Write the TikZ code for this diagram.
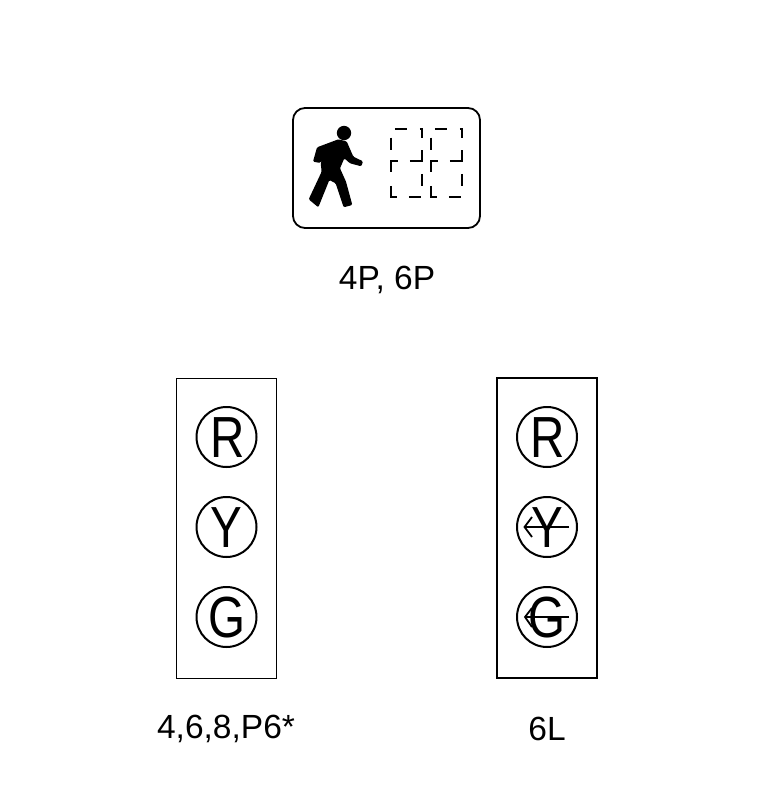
\documentclass[tikz,border=0pt]{standalone}
\usepackage{fontspec}
\setmainfont{Liberation Sans}
\tikzset{
  lamp/.style={draw=black,line width=2pt,circle,minimum size=60pt,inner sep=0pt},
  letter/.style={inner sep=0pt,font=\fontsize{58}{58}\selectfont,xscale=0.82,yshift=-0.5pt},
  caption/.style={inner sep=0pt,font=\fontsize{33.5}{33.5}\selectfont},
  seg/.style={line width=2pt,line cap=butt},
  turn/.style={line width=1.8pt,line join=miter}
}
\begin{document}
\begin{tikzpicture}[x=1pt,y=-1pt]
\useasboundingbox (0,0) rectangle (766,786);
% pedestrian signal
\node[draw=black,line width=1.8pt,rounded corners=12pt,minimum width=187pt,minimum height=120pt,inner sep=0pt] (ped) at (386.5,168) {};
\begin{scope}[shift={(285,100)},x=0.3333pt,y=-0.3333pt]
  \fill (177,99) circle (21.5);
  \fill[rounded corners=1.2pt] (160,118) -- (185,124) -- (205,170) -- (234,184) -- (229,199) -- (195,190) -- (178,175) -- (165,205) -- (183,245) -- (202,315) -- (176,322) -- (152,250) -- (133,240) -- (100,322) -- (71,298) -- (110,215) -- (107,190) -- (118,162) -- (106,189) -- (84,185) -- (96,142) -- cycle;
  \foreach \d in {0,120}{
    \begin{scope}[xshift=\d*0.3333pt,seg]
      \draw (330,88) -- (367,88);
      \draw (405,88) -- (410,88) -- (410,115);
      \draw (318,113) -- (318,150);
      \draw (375,182) -- (410,182) -- (410,150);
      \draw (318,215) -- (318,182) -- (338,182);
      \draw (410,222) -- (410,258);
      \draw (318,258) -- (318,290) -- (335,290);
      \draw (372,290) -- (408,290);
    \end{scope}
  }
\end{scope}
\node[caption] (pedlabel) at (387,280) {4P, 6P};
% left head
\node[draw=black,line width=1pt,minimum width=100pt,minimum height=300pt,inner sep=0pt] (left) at (226.5,528.5) {};
\node[lamp] (lr) at (226.5,437) {};
\node[lamp] (ly) at (226.5,527) {};
\node[lamp] (lg) at (226.5,617) {};
\node[letter] at (227.5,437) {R};
\node[letter] at (ly) {Y};
\node[letter] at (lg) {G};
\node[caption] (leftlabel) at (226,729) {4,6,8,P6*};
% right head
\node[draw=black,line width=2pt,minimum width=100pt,minimum height=300pt,inner sep=0pt] (right) at (547,528) {};
\node[lamp] (rr) at (547,437) {};
\node[lamp] (ry) at (547,527) {};
\node[lamp] (rg) at (547,617) {};
\node[letter] at (548,437) {R};
\node[letter] at (ry) {Y};
\node[letter] at (rg) {G};
\draw[turn] (569,527) -- (524.5,527);
\draw[turn] (532,517) -- (524.5,527) -- (532,537);
\draw[turn] (569,617) -- (525,617);
\draw[turn] (532,608) -- (525,617) -- (532,627);
\node[caption] (rightlabel) at (547,729) {6L};
\end{tikzpicture}
\end{document}
